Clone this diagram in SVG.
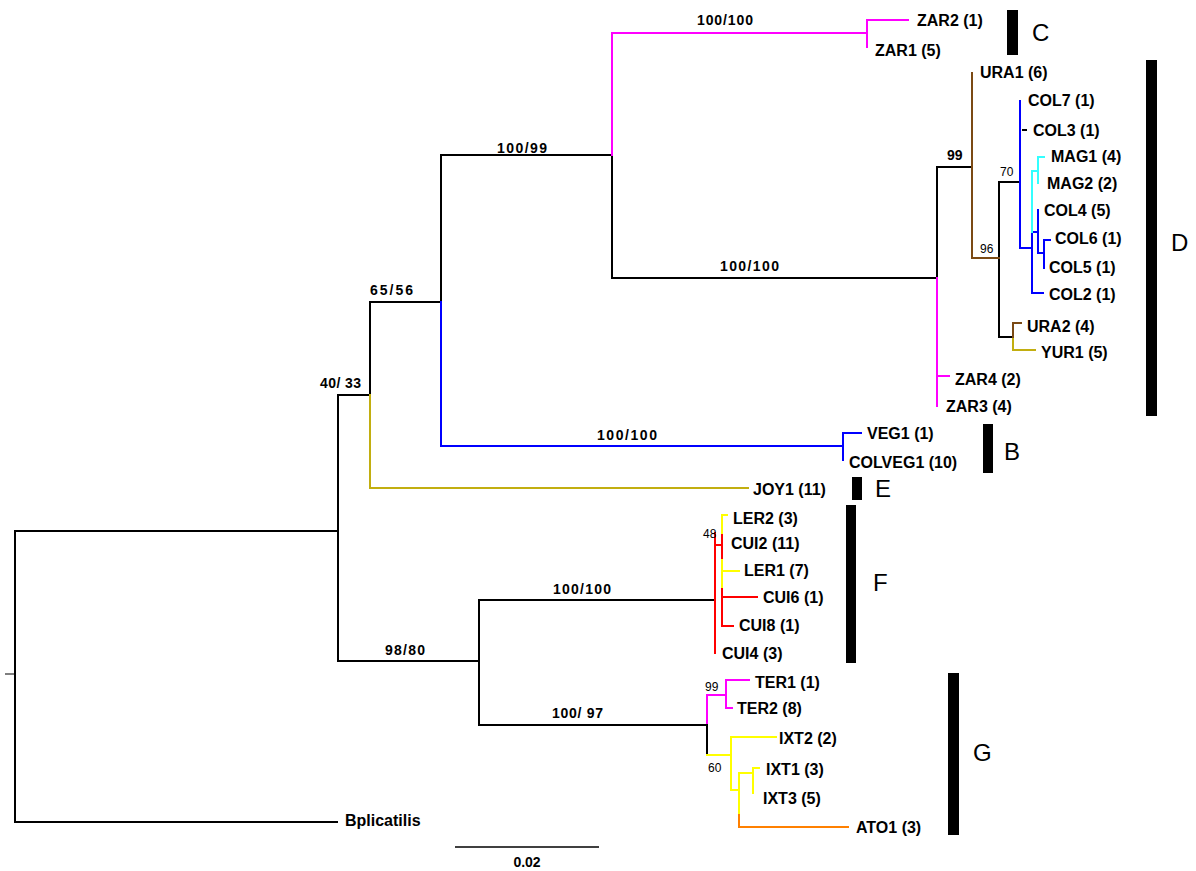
<svg xmlns="http://www.w3.org/2000/svg" width="1196" height="871" viewBox="0 0 1196 871">
<style>
.e{fill:none;stroke-width:2;stroke-linecap:square;stroke-linejoin:miter}
.k{stroke:#000}.o{stroke:#C2AE10}.b{stroke:#0000FF}.c{stroke:#33FFFF}.m{stroke:#FF00FF}.n{stroke:#7B4A14}.r{stroke:#FF0000}.y{stroke:#FFFF00}.a{stroke:#FF8000}
.lf{font-family:"Liberation Sans",Arial,sans-serif;font-weight:bold;font-size:16px;fill:#000}
.sp{font-family:"Liberation Sans",Arial,sans-serif;font-weight:bold;font-size:14px;fill:#000}
.sm{font-family:"Liberation Sans",Arial,sans-serif;font-size:12px;fill:#000}
.cl{font-family:"Liberation Sans",Arial,sans-serif;font-size:24px;fill:#000}
.bar{fill:#000}
</style>
<rect width="1196" height="871" fill="#fff"/>
<g id="connectors">
<path class="e k" d="M15,531 V822 M15,531 H338 M15,822 H337 M338,395 V661 M338,395 H370 M338,661 H479 M370,302 V395 M370,302 H441 M441,155 V302 M441,155 H612 M612,155 V278 M612,278 H937 M937,167 V278 M937,167 H972 M999,182 V337 M999,182 H1020 M999,337 H1013 M479,600 V725 M479,600 H715 M479,725 H707 M707,723 V755 M1023,130 H1026"/>
<path d="M5,674 H14" stroke="#555" stroke-width="1.5" fill="none"/>
<path class="e o" d="M370,395 V488 H748 M1013,337 V350 H1035"/>
<path class="e b" d="M441,302 V446 H843 M843,433 V460 M843,433 H861 M1020,101 V248 H1032 M1032,232 V293 H1043 M1032,232 H1038 M1038,210 V253 H1044 M1044,240 V268 M1044,240 H1050"/>
<path class="e c" d="M1032,171 V232 M1032,171 H1038 M1038,157 V183 M1038,157 H1044"/>
<path class="e m" d="M612,155 V33 H867 M867,20 V47 M867,20 H908 M937,278 V406 M937,376 H949 M707,695 V723 M707,695 H726 M726,680 V708 M726,680 H749 M726,708 H732"/>
<path class="e n" d="M972,73 V258 H999 M1013,337 V323 H1021"/>
<path class="e r" d="M715,533 V653 M715,545 H722 M722,533 V560 M722,587 V626 M722,597 H757 M722,626 H733"/>
<path class="e y" d="M722,515 V533 M722,515 H727 M722,560 V587 M722,571 H739 M707,755 H731 M731,737 V790 M731,737 H776 M731,790 H739 M739,773 V815 M739,773 H753 M753,768 V793 M753,768 H759"/>
<path class="e a" d="M739,815 V827 H848"/>
</g>
<g id="scale">
<path d="M455,847 H599" stroke="#000" stroke-width="1.5" fill="none"/>
<text class="sp" x="527" y="867" text-anchor="middle">0.02</text>
</g>
<g id="supports">
<text class="sp" x="697" y="25" textLength="56">100/100</text>
<text class="sp" x="497" y="153" textLength="50">100/99</text>
<text class="sp" x="720" y="271" textLength="59">100/100</text>
<text class="sp" x="370" y="295" textLength="43">65/56</text>
<text class="sp" x="320" y="388" textLength="41">40/ 33</text>
<text class="sp" x="947" y="160">99</text>
<text class="sp" x="597" y="440" textLength="60">100/100</text>
<text class="sp" x="385" y="655" textLength="40">98/80</text>
<text class="sp" x="553" y="594" textLength="58">100/100</text>
<text class="sp" x="552" y="718" textLength="51">100/ 97</text>
<text class="sm" x="1000" y="176">70</text>
<text class="sm" x="980" y="253">96</text>
<text class="sm" x="703" y="538">48</text>
<text class="sm" x="705" y="691">99</text>
<text class="sm" x="708" y="772">60</text>
</g>
<g id="ZAR2"><text class="lf" x="917" y="26">ZAR2 (1)</text></g>
<g id="ZAR1"><text class="lf" x="875" y="56">ZAR1 (5)</text></g>
<g id="URA1"><text class="lf" x="980" y="78">URA1 (6)</text></g>
<g id="COL7"><text class="lf" x="1028" y="106">COL7 (1)</text></g>
<g id="COL3"><text class="lf" x="1033" y="136">COL3 (1)</text></g>
<g id="MAG1"><text class="lf" x="1051" y="162">MAG1 (4)</text></g>
<g id="MAG2"><text class="lf" x="1047" y="189">MAG2 (2)</text></g>
<g id="COL4"><text class="lf" x="1044" y="216">COL4 (5)</text></g>
<g id="COL6"><text class="lf" x="1055" y="244">COL6 (1)</text></g>
<g id="COL5"><text class="lf" x="1049" y="273">COL5 (1)</text></g>
<g id="COL2"><text class="lf" x="1049" y="300">COL2 (1)</text></g>
<g id="URA2"><text class="lf" x="1027" y="332">URA2 (4)</text></g>
<g id="YUR1"><text class="lf" x="1041" y="358">YUR1 (5)</text></g>
<g id="ZAR4"><text class="lf" x="955" y="385">ZAR4 (2)</text></g>
<g id="ZAR3"><text class="lf" x="946" y="412">ZAR3 (4)</text></g>
<g id="VEG1"><text class="lf" x="867" y="439">VEG1 (1)</text></g>
<g id="COLVEG1"><text class="lf" x="849" y="468">COLVEG1 (10)</text></g>
<g id="JOY1"><text class="lf" x="753" y="495">JOY1 (11)</text></g>
<g id="LER2"><text class="lf" x="733" y="524">LER2 (3)</text></g>
<g id="CUI2"><text class="lf" x="731" y="549">CUI2 (11)</text></g>
<g id="LER1"><text class="lf" x="744" y="576">LER1 (7)</text></g>
<g id="CUI6"><text class="lf" x="763" y="603">CUI6 (1)</text></g>
<g id="CUI8"><text class="lf" x="739" y="631">CUI8 (1)</text></g>
<g id="CUI4"><text class="lf" x="722" y="659">CUI4 (3)</text></g>
<g id="TER1"><text class="lf" x="755" y="688">TER1 (1)</text></g>
<g id="TER2"><text class="lf" x="737" y="714">TER2 (8)</text></g>
<g id="IXT2"><text class="lf" x="779" y="744">IXT2 (2)</text></g>
<g id="IXT1"><text class="lf" x="766" y="775">IXT1 (3)</text></g>
<g id="IXT3"><text class="lf" x="763" y="804">IXT3 (5)</text></g>
<g id="ATO1"><text class="lf" x="856" y="833">ATO1 (3)</text></g>
<g id="Bplicatilis"><text class="lf" x="345" y="826">Bplicatilis</text></g>
<g id="cladeC"><rect class="bar" x="1007" y="10" width="11" height="45"/><text class="cl" x="1032" y="41">C</text></g>
<g id="cladeD"><rect class="bar" x="1146" y="60" width="11" height="356"/><text class="cl" x="1171" y="251">D</text></g>
<g id="cladeB"><rect class="bar" x="983" y="424" width="10" height="49"/><text class="cl" x="1004" y="460">B</text></g>
<g id="cladeE"><rect class="bar" x="852" y="477" width="10" height="23"/><text class="cl" x="875" y="497">E</text></g>
<g id="cladeF"><rect class="bar" x="846" y="505" width="10" height="158"/><text class="cl" x="873" y="591">F</text></g>
<g id="cladeG"><rect class="bar" x="948" y="673" width="11" height="162"/><text class="cl" x="973" y="761">G</text></g>
</svg>
